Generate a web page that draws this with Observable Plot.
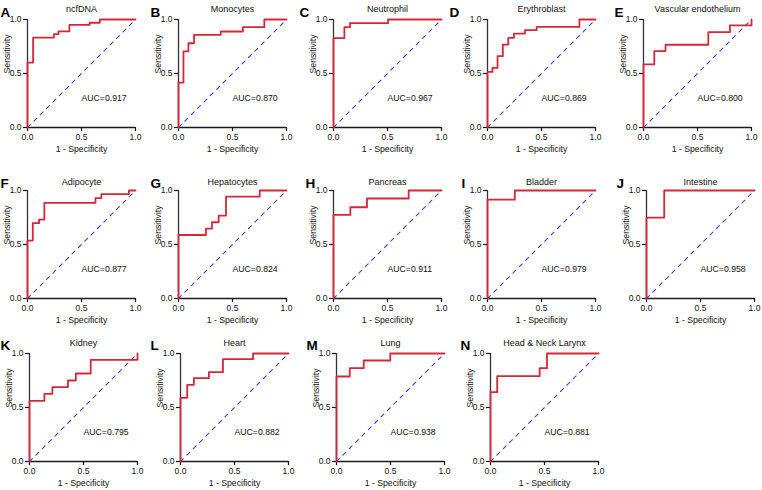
<!DOCTYPE html>
<html><head><meta charset="utf-8">
<script src="https://cdn.jsdelivr.net/npm/d3@7"></script>
<script src="https://cdn.jsdelivr.net/npm/@observablehq/plot@0.6"></script>
<style>
body{margin:0;background:#fff;}
#fig{position:relative;width:762px;height:490px;background:#fff;overflow:hidden;}
#fig > div{position:absolute;}
</style></head><body><div id="fig"></div>
<script>
// ---------- data ----------
const panelLetters = ["A","B","C","D","E","F","G","H","I","J","K","L","M","N"];
const panelTitles = ["ncfDNA","Monocytes","Neutrophil","Erythroblast","Vascular endothelium",
  "Adipocyte","Hepatocytes","Pancreas","Bladder","Intestine",
  "Kidney","Heart","Lung","Head & Neck Larynx"];
const aucValues = [0.917,0.870,0.967,0.869,0.800,0.877,0.824,0.911,0.979,0.958,0.795,0.882,0.938,0.881];
// ROC vertices (1 - specificity, sensitivity), drawn as a step curve
const rocFPR = [
  [0,0,0.052,0.245,0.287,0.388,0.575,0.67,1],
  [0,0,0.046,0.092,0.144,0.391,0.596,0.795,1],
  [0,0,0.101,0.153,0.505,1],
  [0,0,0.046,0.093,0.142,0.192,0.245,0.347,0.455,0.851,1],
  [0,0,0.10,0.204,0.60,0.80,1],
  [0,0,0.049,0.107,0.156,0.629,0.684,0.939,1],
  [0,0,0.254,0.31,0.372,0.44,0.752,1],
  [0,0,0.156,0.31,0.696,1],
  [0,0,0.253,1],
  [0,0,0.164,1],
  [0,0,0.138,0.212,0.356,0.429,0.567,1],
  [0,0,0.062,0.124,0.263,0.393,0.672,1],
  [0,0,0.123,0.252,0.498,1],
  [0,0,0.062,0.455,0.523,1]
];
const rocTPR = [
  [0,0.60,0.833,0.864,0.89,0.95,0.97,1,1],
  [0,0.415,0.705,0.78,0.858,0.889,0.929,1,1],
  [0,0.828,0.929,0.966,1,1],
  [0,0.515,0.552,0.66,0.768,0.83,0.87,0.901,0.932,1,1],
  [0,0.585,0.708,0.766,0.883,0.945,1],
  [0,0.536,0.697,0.731,0.885,0.929,0.966,1,1],
  [0,0.588,0.647,0.706,0.768,0.944,1,1],
  [0,0.774,0.845,0.926,1,1],
  [0,0.916,1,1],
  [0,0.749,1,1],
  [0,0.562,0.627,0.688,0.75,0.815,0.941,1],
  [0,0.59,0.71,0.772,0.827,0.948,1,1],
  [0,0.787,0.864,0.935,1,1],
  [0,0.642,0.79,0.864,1,1]
];
const tickValues = [0, 0.5, 1];
const tickLabels = ["0.0", "0.5", "1.0"];
const diagonal = [0, 1];
const xLabel = "1 - Specificity";
const yLabel = "Sensitivity";

// ---------- layout ----------
const cellLeft = [0, 148, 298, 448, 598];
const rowTop = [0, 160, 325];
const frameTop = [19, 190, 353];
const frameLeft = [27,178,333,487,643, 27,178,333,487,646, 29,180,336,490];
const letterX = [0,150,299,449,614, 0,150,305,461,616, 0,150,306,460];
const titleDy = [-14, -12, -14];
const letterDy = [-12.5, -12, -13];
const FW = 108, FH = 108;
const FONT = "'Liberation Sans', Arial, Helvetica, sans-serif";
const fmt = d => tickLabels[tickValues.indexOf(d)];

const fig = document.getElementById("fig");
panelLetters.forEach((letter, i) => {
  const row = Math.floor(i / 5), col = i % 5;
  const left = cellLeft[col], top = rowTop[row];
  const mL = frameLeft[i] - left, mT = frameTop[row] - top;
  const mR = 12, mB = 34;
  const width = mL + FW + mR, height = mT + FH + mB;
  const fpr = rocFPR[i], tpr = rocTPR[i];
  const plot = Plot.plot({
    width, height,
    marginLeft: mL, marginTop: mT, marginRight: mR, marginBottom: mB,
    style: {fontFamily: FONT, fontSize: "8.5px", color: "#111", background: "transparent", overflow: "visible"},
    x: {domain: [0, 1]},
    y: {domain: [0, 1]},
    marks: [
      Plot.axisX({ticks: tickValues, tickFormat: fmt, tickSize: 4, tickPadding: 2, label: null, strokeWidth: 1.2}),
      Plot.axisY({ticks: tickValues, tickFormat: fmt, tickSize: 4, tickPadding: 2, label: null, strokeWidth: 1.2}),
      Plot.ruleY([0], {stroke: "#1a1a1a", strokeWidth: 1.3}),
      Plot.ruleX([0], {stroke: "#333", strokeWidth: 1.3}),
      Plot.line(diagonal, {x: d => d, y: d => d, stroke: "#3f3fdc", strokeWidth: 1.1, strokeDasharray: "4,5"}),
      Plot.line(d3.range(fpr.length), {x: j => fpr[j], y: j => tpr[j], curve: "step-after",
        stroke: "#d4283a", strokeWidth: 1.8}),
      Plot.text([aucValues[i]], {x: 0.5, y: 0.27, text: d => "AUC=" + d.toFixed(3),
        textAnchor: "start", fontSize: 8.7, fill: "#111"}),
      Plot.text([panelTitles[i]], {frameAnchor: "top", dy: titleDy[row], text: d => d, fontSize: 9, fill: "#111"}),
      Plot.text([letter], {frameAnchor: "top-left", dx: letterX[i] - frameLeft[i], dy: letterDy[row],
        text: d => d, textAnchor: "start", fontSize: 13.5, fontWeight: "bold", fill: "#000"}),
      Plot.text([xLabel], {frameAnchor: "bottom", dy: 24.5, text: d => d, fontSize: 8.7, fill: "#111"}),
      Plot.text([yLabel], {frameAnchor: "left", dx: -20, rotate: -90, text: d => d, fontSize: 8.7, fill: "#111"})
    ]
  });
  const div = document.createElement("div");
  div.style.left = left + "px";
  div.style.top = top + "px";
  div.style.width = width + "px";
  div.style.height = height + "px";
  div.appendChild(plot);
  fig.appendChild(div);
});
</script></body></html>
